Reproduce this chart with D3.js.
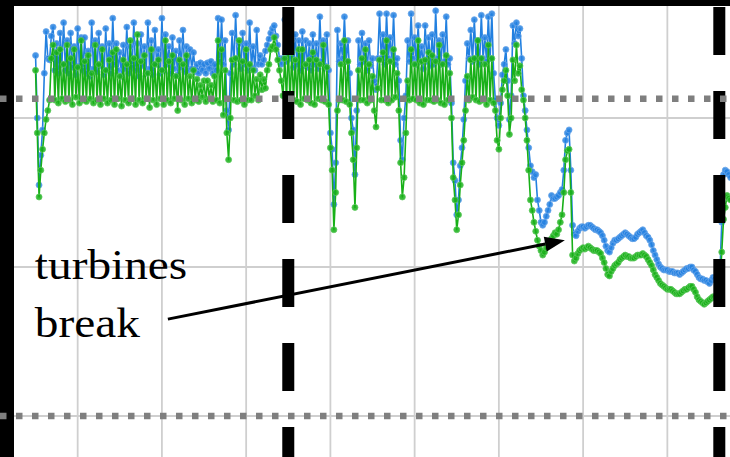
<!DOCTYPE html>
<html>
<head>
<meta charset="utf-8">
<script src="https://cdn.jsdelivr.net/npm/d3@7"></script>
<style>
  html, body { margin: 0; padding: 0; background: #fff; }
  svg { display: block; }
</style>
</head>
<body>
<div id="chart"></div>
<script>
// half-hourly samples, first one at hour 12
const startHour = 12;
const stepHours = 0.5;

const bluePower = [
  242,200, 155,175, 192,230, 258,240, 239,255, 261,232, 250,230, 257,236, 264,232, 252,230,
  257,234, 248,229, 260,235, 254,232, 254,230, 245,228, 264,233, 252,231, 257,235, 248,229,
  260,232, 250,230, 267,236, 250,232, 244,228, 249,233, 261,230, 248,234, 264,232, 250,228,
  256,235, 248,230, 264,233, 252,229, 259,236, 246,230, 267,232, 256,236, 248,230, 254,233,
  245,229, 252,234, 259,231, 248,232, 246,233, 244,231, 236,230, 237,232, 236,230, 237,233,
  238,230, 236,232, 267,238, 266,236, 252,205, 192,230, 257,236, 269,240, 250,233, 257,236,
  250,232, 264,234, 248,232, 259,236, 242,236, 239,245, 249,253, 257,260, 262,255, 249,240,
  236,240, 266,238, 270,240, 252,234, 256,236, 252,232, 258,235, 252,234, 250,232, 256,236,
  250,233, 268,238, 252,235, 256,232, 190,179, 142,170, 259,238, 250,240, 268,238, 252,230,
  200,192, 162,205, 252,236, 257,238, 250,232, 252,235, 240,225, 219,240, 270,240, 256,236,
  270,240, 254,238, 269,236, 240,225, 185,172, 200,215, 252,238, 270,240, 254,236, 262,238,
  248,233, 262,238, 254,235, 256,236, 272,240, 252,236, 256,238, 268,236, 240,210, 170,158,
  135,145, 168,180, 199,225, 250,240, 259,238, 266,240, 252,236, 269,240, 254,238, 268,240,
  270,230, 212,200, 195,210, 229,236, 246,225, 199,215, 262,250, 264,255, 260,240, 215,205,
  192,180, 168,164, 160,162, 145,138, 130,128, 130,134, 138,142, 148,146, 146,147, 148,150,
  152,165, 185,190, 192,165, 128,122, 121,124, 126,127, 127,126, 127,128, 128,127, 126,125,
  125,124, 123,121, 118,114, 111,110, 113,116, 118,118, 119,120, 121,122, 123,122, 121,120,
  119,119, 120,122, 123,124, 125,123, 121,120, 118,115, 111,108, 105,102, 100,99, 98,98,
  98,97, 97,97, 96,96, 96,95, 96,97, 98,99, 99,100, 100,98, 97,95, 93,92,
  92,91, 91,90, 89,91, 93,92, 91,93, 98,130, 162,165, 164,162,
  160
];

const greenPower = [
  232,190, 147,165, 179,190, 199,205, 212,240, 249,212, 244,210, 246,213, 236,211, 249,212,
  240,209, 246,214, 234,210, 252,212, 238,211, 242,213, 230,210, 249,212, 236,209, 246,213,
  232,210, 239,212, 244,209, 246,213, 228,208, 239,212, 236,210, 252,213, 240,209, 256,212,
  238,210, 242,213, 230,207, 246,212, 236,209, 239,213, 232,209, 252,212, 238,210, 242,213,
  228,205, 239,212, 236,209, 242,213, 228,210, 232,212, 226,211, 222,214, 225,211, 225,213,
  222,211, 228,212, 252,210, 246,202, 232,190, 172,200, 239,212, 240,211, 252,212, 238,209,
  246,212, 236,212, 232,215, 226,212, 229,219, 226,220, 232,236, 246,248, 254,246, 239,232,
  225,215, 240,212, 249,210, 244,212, 239,211, 246,209, 246,213, 236,212, 239,210, 244,209,
  239,213, 236,212, 249,211, 234,209, 180,165, 125,150, 205,212, 236,212, 252,211, 238,209,
  190,172, 140,180, 232,212, 240,212, 246,210, 236,212, 228,205, 194,220, 239,212, 244,212,
  252,210, 238,212, 246,214, 230,205, 170,147, 160,190, 225,212, 246,213, 236,212, 252,210,
  238,209, 239,212, 244,212, 242,211, 238,212, 249,210, 236,209, 242,212, 230,200, 160,145,
  125,135, 155,170, 185,205, 228,212, 239,214, 240,212, 252,211, 240,212, 236,209, 249,212,
  240,210, 205,185, 179,200, 219,225, 232,215, 189,200, 239,225, 249,230, 235,219, 212,200,
  185,165, 145,138, 130,124, 118,114, 111,108, 110,113, 115,117, 119,121, 123,122, 125,130,
  135,150, 172,178, 179,150, 108,104, 106,109, 111,112, 113,112, 113,114, 113,112, 111,111,
  111,110, 109,106, 103,99, 95,94, 97,99, 101,102, 103,105, 106,107, 108,107, 107,106,
  106,106, 107,108, 108,108, 109,108, 107,105, 103,101, 98,95, 93,91, 89,88, 87,86,
  85,85, 85,84, 83,82, 82,82, 83,84, 85,85, 86,87, 87,85, 83,80, 78,77,
  76,75, 76,77, 78,79, 80,80, 79,82, 91,110, 132,140, 148,146,
  145
];

const gridHours = [24, 48, 72, 96, 120, 144, 168, 192];
const gridValues = [0, 100, 200];
const limitValues = [213, 0];
const eventHours = [84, 206.8];

const labelLines = ["turbines", "break"];
const labelAt = { hour: 11.8, value: 92 };
const arrowFrom = { hour: 49.7, value: 65 };
const arrowTo = { hour: 162.8, value: 118 };

const width = 730;
const height = 457;
const frame = { left: 14, top: 6 };

const x = d3.scaleLinear().domain([0, 216]).range([-6.57, 751.6]);
const y = d3.scaleLinear().domain([0, 275]).range([416, 6.25]);

const svg = d3
  .select("#chart")
  .append("svg")
  .attr("width", width)
  .attr("height", height);

svg.append("rect").attr("width", width).attr("height", height).attr("fill", "#fff");

// grid
const grid = svg.append("g").attr("stroke", "#cfcfcf").attr("stroke-width", 1.8);
grid
  .selectAll("line.v")
  .data(gridHours)
  .join("line")
  .attr("class", "v")
  .attr("x1", (d) => x(d))
  .attr("x2", (d) => x(d))
  .attr("y1", frame.top)
  .attr("y2", height);
grid
  .selectAll("line.h")
  .data(gridValues)
  .join("line")
  .attr("class", "h")
  .attr("x1", frame.left)
  .attr("x2", width)
  .attr("y1", (d) => y(d))
  .attr("y2", (d) => y(d));

// series
function drawSeries(values, lineColor, dotColor) {
  const pts = values.map((v, i) => [startHour + i * stepHours, v]);
  const g = svg.append("g");
  g.append("path")
    .datum(pts)
    .attr("fill", "none")
    .attr("stroke", lineColor)
    .attr("stroke-width", 1.6)
    .attr("stroke-linejoin", "round")
    .attr("d", d3.line().x((d) => x(d[0])).y((d) => y(d[1])));
  g.selectAll("circle")
    .data(pts)
    .join("circle")
    .attr("cx", (d) => x(d[0]))
    .attr("cy", (d) => y(d[1]))
    .attr("r", 3)
    .attr("fill", lineColor)
    .attr("fill-opacity", 0.85)
    .attr("stroke", dotColor)
    .attr("stroke-width", 0.8);
}
drawSeries(bluePower, "#2280e0", "#6aa6ea");
drawSeries(greenPower, "#18b018", "#5cc85c");

// black frame edges
svg.append("rect").attr("x", 0).attr("y", 0).attr("width", frame.left).attr("height", height).attr("fill", "#000");
svg.append("rect").attr("x", 0).attr("y", 0).attr("width", width).attr("height", frame.top).attr("fill", "#000");

// event markers
svg
  .selectAll("line.event")
  .data(eventHours)
  .join("line")
  .attr("class", "event")
  .attr("x1", (d) => x(d))
  .attr("x2", (d) => x(d))
  .attr("y1", 7)
  .attr("y2", height)
  .attr("stroke", "#000")
  .attr("stroke-width", 12)
  .attr("stroke-dasharray", "48 36");

// limit lines
svg
  .selectAll("line.limit")
  .data(limitValues)
  .join("line")
  .attr("class", "limit")
  .attr("x1", 0)
  .attr("x2", width)
  .attr("y1", (d) => y(d))
  .attr("y2", (d) => y(d))
  .attr("stroke", "#7f7f7f")
  .attr("stroke-width", 6.5)
  .attr("stroke-dasharray", "6.5 9.5");

// annotation
const label = svg
  .append("text")
  .attr("transform", `translate(${x(labelAt.hour)},${y(labelAt.value)}) scale(1.1,1)`)
  .style("font-family", "'Liberation Serif', 'Times New Roman', serif")
  .style("font-size", "43px")
  .attr("fill", "#000");
label
  .selectAll("tspan")
  .data(labelLines)
  .join("tspan")
  .attr("x", 0)
  .attr("dy", (d, i) => (i === 0 ? 0 : 58))
  .text((d) => d);

const x0 = x(arrowFrom.hour), y0 = y(arrowFrom.value);
const x1 = x(arrowTo.hour), y1 = y(arrowTo.value);
const ang = Math.atan2(y1 - y0, x1 - x0);
const headLen = 20, headHalf = 7.5;
const bx = x1 - headLen * Math.cos(ang), by = y1 - headLen * Math.sin(ang);
svg
  .append("line")
  .attr("x1", x0)
  .attr("y1", y0)
  .attr("x2", bx)
  .attr("y2", by)
  .attr("stroke", "#000")
  .attr("stroke-width", 3);
svg
  .append("path")
  .attr(
    "d",
    `M${x1},${y1}L${bx + headHalf * Math.sin(ang)},${by - headHalf * Math.cos(ang)}L${bx - headHalf * Math.sin(ang)},${by + headHalf * Math.cos(ang)}Z`
  )
  .attr("fill", "#000");
</script>
</body>
</html>
